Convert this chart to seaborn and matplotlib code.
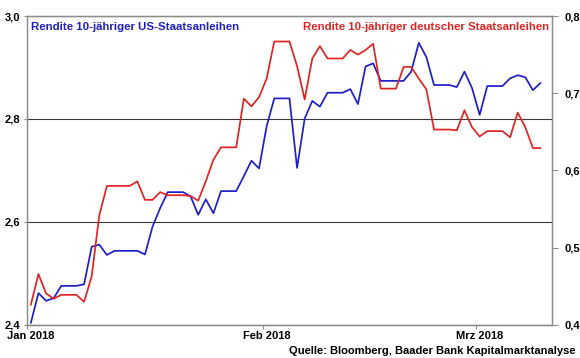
import numpy as np
import pandas as pd
import matplotlib
matplotlib.use("Agg")
import matplotlib.pyplot as plt
from matplotlib.transforms import ScaledTranslation
import seaborn as sns

#------------------------------------------------------------------------------
# DATA (daily, Jan 1 - Mar 9 2018, weekends/holidays carried forward)
#------------------------------------------------------------------------------

dates = pd.date_range("2018-01-01 12:00", "2018-03-09 12:00", freq="D")

us_10y = [2.404, 2.462, 2.447, 2.452, 2.476, 2.476, 2.476, 2.479, 2.552, 2.556,
          2.536, 2.544, 2.544, 2.544, 2.544, 2.537, 2.591, 2.627, 2.658, 2.658,
          2.658, 2.650, 2.614, 2.644, 2.617, 2.660, 2.660, 2.660, 2.689, 2.719,
          2.704, 2.786, 2.840, 2.840, 2.840, 2.705, 2.801, 2.835, 2.824, 2.851,
          2.851, 2.851, 2.858, 2.829, 2.902, 2.908, 2.874, 2.874, 2.874, 2.874,
          2.892, 2.948, 2.920, 2.866, 2.866, 2.866, 2.862, 2.892, 2.860, 2.808,
          2.864, 2.864, 2.864, 2.879, 2.885, 2.881, 2.856, 2.870]

de_10y = [0.426, 0.466, 0.441, 0.434, 0.439, 0.439, 0.439, 0.430, 0.463, 0.542,
          0.580, 0.580, 0.580, 0.580, 0.586, 0.562, 0.562, 0.572, 0.568, 0.568,
          0.568, 0.567, 0.561, 0.586, 0.614, 0.630, 0.630, 0.630, 0.693, 0.683,
          0.695, 0.719, 0.767, 0.767, 0.767, 0.735, 0.692, 0.745, 0.761, 0.745,
          0.745, 0.745, 0.756, 0.750, 0.756, 0.764, 0.706, 0.706, 0.706, 0.734,
          0.734, 0.719, 0.705, 0.653, 0.653, 0.653, 0.652, 0.678, 0.656, 0.644,
          0.651, 0.651, 0.651, 0.643, 0.675, 0.656, 0.629, 0.629]

month_ticks = pd.to_datetime(["2018-01-01", "2018-02-01", "2018-03-01"])
month_labels = ["Jan 2018", "Feb 2018", "Mrz 2018"]
left_ticks = [2.4, 2.6, 2.8, 3.0]
right_ticks = [0.4, 0.5, 0.6, 0.7, 0.8]

df = pd.DataFrame({"date": dates, "us": us_10y, "de": de_10y})

#------------------------------------------------------------------------------
# PLOTTING
#------------------------------------------------------------------------------

sns.set_style("white")
plt.rcParams["font.family"] = ["Liberation Sans", "DejaVu Sans"]
plt.rcParams["font.weight"] = "bold"

blue = "#1f1fc8"
red = "#e02424"

fig = plt.figure(figsize=(5.8, 3.58), dpi=100)
ax = fig.add_axes([0.0466, 0.0922, 0.905, 0.8631])
ax2 = ax.twinx()

sns.lineplot(data=df, x="date", y="us", ax=ax, color=blue, linewidth=1.25)
sns.lineplot(data=df, x="date", y="de", ax=ax2, color=red, linewidth=1.25)

ax.set_xlim(pd.Timestamp("2018-01-01"), pd.Timestamp("2018-03-11"))
ax.set_ylim(2.4, 3.0)
ax2.set_ylim(0.4, 0.8)

ax.set_yticks(left_ticks)
ax.set_yticklabels([f"{v:.1f}".replace(".", ",") for v in left_ticks])
ax2.set_yticks(right_ticks)
ax2.set_yticklabels([f"{v:.1f}".replace(".", ",") for v in right_ticks])
ax.set_xticks(month_ticks)
ax.set_xticklabels(month_labels)

for a in (ax, ax2):
    a.set_xlabel("")
    a.set_ylabel("")
    for s in a.spines.values():
        s.set_color("#8c8c8c")
        s.set_linewidth(0.9)
ax.spines["bottom"].set_color("#555555")

ax.yaxis.grid(True, color="#3a3a3a", linewidth=0.8)
ax.xaxis.grid(False)
ax2.grid(False)

ax.tick_params(axis="y", length=2, pad=3, labelsize=8, colors="#8c8c8c", labelcolor="black")
ax.tick_params(axis="x", length=3, pad=1, labelsize=8, colors="#8c8c8c", labelcolor="black", bottom=True)
ax2.tick_params(axis="y", right=True, length=4, pad=5, labelsize=8, colors="#8c8c8c", labelcolor="black")
# Excel-style: month labels start a little left of the tick
for lbl in ax.get_xticklabels():
    lbl.set_horizontalalignment("left")
    lbl.set_transform(lbl.get_transform() + ScaledTranslation(-0.2, 0, fig.dpi_scale_trans))

ax.text(0.008, 0.964, "Rendite 10-jähriger US-Staatsanleihen", transform=ax.transAxes,
        color=blue, fontsize=8.2, fontweight="bold", ha="left", va="center")
ax.text(0.995, 0.964, "Rendite 10-jähriger deutscher Staatsanleihen", transform=ax.transAxes,
        color=red, fontsize=8.2, fontweight="bold", ha="right", va="center")
fig.text(0.993, 0.005, "Quelle: Bloomberg, Baader Bank Kapitalmarktanalyse",
         color="black", fontsize=8, fontweight="bold", ha="right", va="bottom")

fig.savefig("out.png", dpi=100)
plt.close(fig)
